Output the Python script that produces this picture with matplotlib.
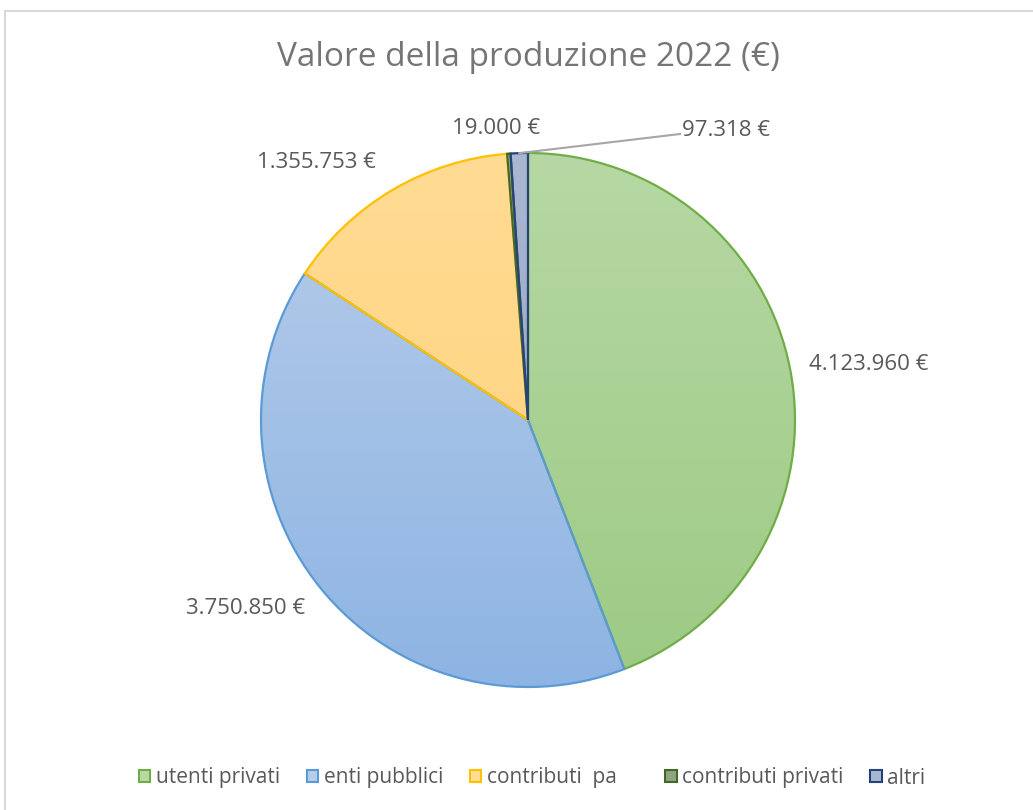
import matplotlib
matplotlib.use("Agg")
import matplotlib.pyplot as plt
import numpy as np
from matplotlib.patches import Patch
from matplotlib.colors import LinearSegmentedColormap

categories = ["utenti privati", "enti pubblici", "contributi  pa", "contributi privati", "altri"]
values = [4123960, 3750850, 1355753, 19000, 97318]
value_labels = ["4.123.960 €", "3.750.850 €", "1.355.753 €", "19.000 €", "97.318 €"]
title = "Valore della produzione 2022 (€)"

edge_colors = ["#70AD47", "#5B9BD5", "#FFC000", "#43682B", "#264478"]
top_colors = ["#B7D8A4", "#B7CDEA", "#FFDB93", "#8DA680", "#A9B7D2"]
bot_colors = ["#9CCA84", "#8EB4E3", "#FFD27A", "#70905F", "#8F9FC2"]

W, H = 1033, 810
fig = plt.figure(figsize=(W / 100, H / 100), dpi=100)
ax = fig.add_axes([0, 0, 1, 1])

def fy(py):
    return H - py

cx, cy, r = 528, fy(420), 267

wedges, _ = ax.pie(values, startangle=90, counterclock=False, center=(cx, cy),
                   radius=r, frame=True,
                   wedgeprops=dict(linewidth=1.6))
ax.set_xlim(0, W)
ax.set_ylim(0, H)
ax.set_aspect("equal")
ax.axis("off")

grad = np.linspace(0, 1, 256).reshape(-1, 1)
for w, ec, tc, bc in zip(wedges, edge_colors, top_colors, bot_colors):
    w.set_facecolor("none")
    w.set_edgecolor(ec)
    w.set_zorder(3)
    cmap = LinearSegmentedColormap.from_list("g", [bc, tc])
    im = ax.imshow(grad, cmap=cmap, extent=(cx - r, cx + r, cy - r, cy + r),
                   origin="lower", aspect="auto", zorder=2)
    im.set_clip_path(w)

lab_color = "#595959"
lab_kw = dict(fontsize=16, color=lab_color, family="Open Sans", va="center")
ax.text(869, fy(365), value_labels[0], ha="center", **lab_kw)
ax.text(246, fy(609), value_labels[1], ha="center", **lab_kw)
ax.text(316, fy(162), value_labels[2], ha="center", **lab_kw)
ax.text(496, fy(128), value_labels[3], ha="center", **lab_kw)
ax.text(682, fy(131), value_labels[4], ha="left", **lab_kw)

# leader line for small slice "altri"
th1 = wedges[4].theta1
th2 = wedges[4].theta2
mid = np.deg2rad((th1 + th2) / 2)
px, py_ = cx + r * np.cos(mid), cy + r * np.sin(mid)
ax.plot([px, 680], [py_, fy(134)], color="#A6A6A6", lw=1.5, zorder=4)

fig.text(528 / W, 1 - 58 / H, title, ha="center", va="center",
         fontsize=24, color="#757575", family="Open Sans")

# chart area border
ax.plot([5, 5], [fy(11), -10], color="#D9D9D9", lw=1.5, clip_on=False)
ax.plot([5, W + 10], [fy(11), fy(11)], color="#D9D9D9", lw=1.5, clip_on=False)

leg_labels = list(categories)
leg_labels[2] = leg_labels[2] + "    "
handles = [Patch(facecolor=t, edgecolor=e, linewidth=1.5) for t, e in zip(top_colors, edge_colors)]
leg = fig.legend(handles, leg_labels, loc="center", bbox_to_anchor=(532 / W, 1 - 778 / H),
                 ncol=5, frameon=False, handlelength=0.55, handleheight=0.55,
                 handletextpad=0.25, columnspacing=1.3,
                 prop=dict(family="Open Sans", size=15))
for t in leg.get_texts():
    t.set_color(lab_color)

fig.savefig("out.png", dpi=100, facecolor="white")
